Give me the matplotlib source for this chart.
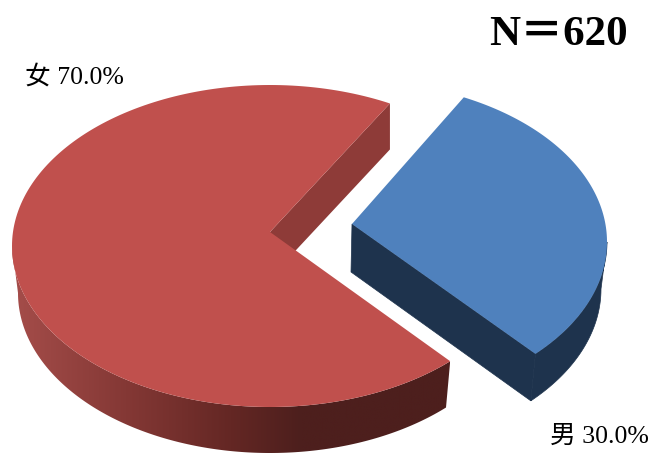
import numpy as np
import matplotlib
matplotlib.use("Agg")
import matplotlib.pyplot as plt
from matplotlib.colors import LinearSegmentedColormap
from matplotlib.patches import Polygon

# data
categories = ["女", "男"]
shares = [70.0, 30.0]
total_n = 620

FONT = ["Liberation Serif", "Noto Sans CJK TC"]

def arc(cx, cy, rx, ry, t0, t1, n=200):
    t = np.radians(np.linspace(t0, t1, n))
    return np.column_stack([cx + rx * np.cos(t), cy - ry * np.sin(t)])

fig = plt.figure(figsize=(6.54, 4.54), dpi=100)
ax = fig.add_axes([0, 0, 1, 1])
ax.set_xlim(0, 654)
ax.set_ylim(454, 0)
ax.axis("off")

# 女 slice, sweeps the long way round, clockwise ends where the 男 gap starts
red_start = 62.3
red_sweep = shares[0] / sum(shares) * 360
red_t0 = red_start
red_t1 = red_start + red_sweep
red_top = (270, 246, 258, 161)
red_bot = (270, 293, 252, 160)
red_apex = np.array([270, 232])
depth = 46

# wall of the cut, under the top face
wall_a = arc(*red_top, red_t0, red_t0, 1)[0]
wall = [red_apex, wall_a, wall_a + [0, depth], red_apex + [0, depth]]
ax.add_patch(Polygon(wall, closed=True, fc="#8E3B38", ec="none", zorder=2))

# rim with the left-to-right shading
rim = np.vstack([arc(*red_top, 180, red_t1), arc(*red_bot, red_t1, 180)])
rim_patch = Polygon(rim, closed=True, fc="none", ec="none", zorder=1)
ax.add_patch(rim_patch)
shade = LinearSegmentedColormap.from_list(
    "rim", [(0, "#A54D4A"), (0.26, "#843835"), (0.5, "#642724"), (0.66, "#4D1F1D"), (1, "#4D1F1D")])
img = ax.imshow(np.linspace(0, 1, 256)[None, :], cmap=shade, extent=[12, 450, 454, 240],
                aspect="auto", zorder=1)
img.set_clip_path(rim_patch)
ax.set_xlim(0, 654)
ax.set_ylim(454, 0)

# top face
face = np.vstack([red_apex[None, :], arc(*red_top, red_t0, red_t1)])
ax.add_patch(Polygon(face, closed=True, fc="#C0504D", ec="none", zorder=3))

# 男 slice, pulled out
blue_start = 64.0
blue_sweep = shares[1] / sum(shares) * 360
blue_t0 = blue_start
blue_t1 = blue_start - blue_sweep
blue_top = (352, 242, 255, 161)
blue_bot = (351, 289, 250, 161)
blue_apex = np.array([352, 224])

corner_top = arc(*blue_top, blue_t1, blue_t1, 1)[0]
corner_bot = arc(*blue_bot, blue_t1, blue_t1, 1)[0]
blue_wall = [blue_apex, corner_top, corner_bot, blue_apex + [-1, 48]]
ax.add_patch(Polygon(blue_wall, closed=True, fc="#1E334D", ec="#1E334D", lw=0.5, zorder=2))
blue_rim = np.vstack([arc(*blue_top, blue_t1, 0), arc(*blue_bot, 0, blue_t1)])
ax.add_patch(Polygon(blue_rim, closed=True, fc="#1E334D", ec="#1E334D", lw=0.5, zorder=2))
blue_face = np.vstack([blue_apex[None, :], arc(*blue_top, blue_t0, blue_t1)])
ax.add_patch(Polygon(blue_face, closed=True, fc="#4F81BD", ec="none", zorder=3))

# labels
ax.text(25, 83.5, f"{categories[0]} {shares[0]:.1f}%", family=FONT, fontsize=18.5, color="black")
ax.text(550, 443, f"{categories[1]} {shares[1]:.1f}%", family=FONT, fontsize=18.5, color="black")
ax.text(489, 45, f"N＝{total_n}", family=FONT, fontsize=31, fontweight="bold", color="black")

fig.savefig("out.png", dpi=100)
